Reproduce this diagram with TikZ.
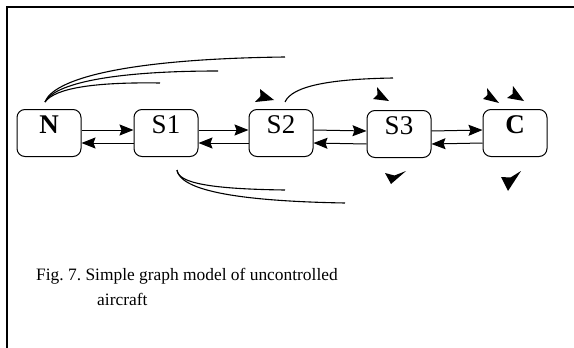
\documentclass[tikz,border=0pt]{standalone}
\usepackage{fontspec}
\setmainfont{Liberation Serif}
\usetikzlibrary{arrows.meta}

\tikzset{
  state/.style={draw, line width=1pt, rounded corners=8pt, minimum width=64pt,
    minimum height=47pt, inner sep=0pt},
  statelabel/.style={font=\fontsize{27}{29}\selectfont, inner sep=0pt, anchor=base},
  link/.style={line width=1pt, -{Stealth[length=14pt, width=11pt, inset=2pt]}},
  stub/.style={line width=1.1pt},
  tip/.style={fill=black},
  caption/.style={font=\fontsize{17.4}{20}\selectfont, inner sep=0pt, anchor=base west}
}

\begin{document}
\frenchspacing
\begin{tikzpicture}[x=1pt, y=-1pt]
  \useasboundingbox (0,0) rectangle (574,348);

  % open frame: top and left edges
  \draw[line width=1.4pt] (7,348) -- (7,7) -- (574,7);

  % states
  \node[state] (N)  at (49,133)  {};
  \node[state] (S1) at (166,133) {};
  \node[state] (S2) at (281,133) {};
  \node[state] (S3) at (399,134) {};
  \node[state] (C)  at (515,133) {};

  \node[statelabel] (lN)  at (N.center)  {\textbf{N}};
  \node[statelabel] (lS1) at (S1.center) {S1};
  \node[statelabel] (lS2) at (S2.center) {S2};
  \node[statelabel] (lS3) at (S3.center) {S3};
  \node[statelabel] (lC)  at (C.center)  {\textbf{C}};

  % forward and backward transitions
  \foreach \a/\b in {N/S1, S1/S2, S2/S3, S3/C} {
    \draw[link] ([yshift=3pt]\a.east) -- ([yshift=3pt]\b.west);
    \draw[link] ([yshift=-10pt]\b.west) -- ([yshift=-10pt]\a.east);
  }

  % open arcs leaving N
  \coordinate (nTop) at (45,102);
  \coordinate (nA) at (285,57);
  \coordinate (nB) at (218,71);
  \coordinate (nC) at (160,83);
  \draw[stub] (nTop) .. controls (53,80) and (120,59) .. (nA);
  \draw[stub] (nTop) .. controls (54,84) and (110,71) .. (nB);
  \draw[stub] (nTop) .. controls (55,88) and (95,82) .. (nC);

  % open arcs below S1
  \coordinate (sBot) at (177,170);
  \coordinate (sA) at (285,190);
  \coordinate (sB) at (345,203);
  \draw[stub] (sBot) .. controls (178,183) and (210,189) .. (sA);
  \draw[stub] (sBot) .. controls (180,189) and (230,201) .. (sB);

  % open arc above S2
  \coordinate (tTop) at (285,102);
  \coordinate (tA) at (393,78);
  \draw[stub] (tTop) .. controls (292,86) and (330,79) .. (tA);

  % loose arrow tips
  \fill[tip] (274,100) -- (260,89) -- (260.5,96.2) -- (255,102) -- cycle;
  \fill[tip] (389,101) -- (377,87) -- (377.5,94.5) -- (373,99) -- cycle;
  \fill[tip] (391,184) -- (385,173) -- (394.5,175.5) -- (406,171) -- cycle;
  \fill[tip] (499,103) -- (487,88) -- (487.5,95) -- (483,99) -- cycle;
  \fill[tip] (524,101) -- (513,86) -- (512.5,94) -- (507,98) -- cycle;
  \fill[tip] (508,191) -- (501,177) -- (510.5,177.5) -- (521,171) -- cycle;

  % caption
  \node[caption] (cap1) at (36,280) {Fig. 7. Simple graph model of uncontrolled};
  \node[caption] (cap2) at (97,305) {aircraft};
\end{tikzpicture}
\end{document}
